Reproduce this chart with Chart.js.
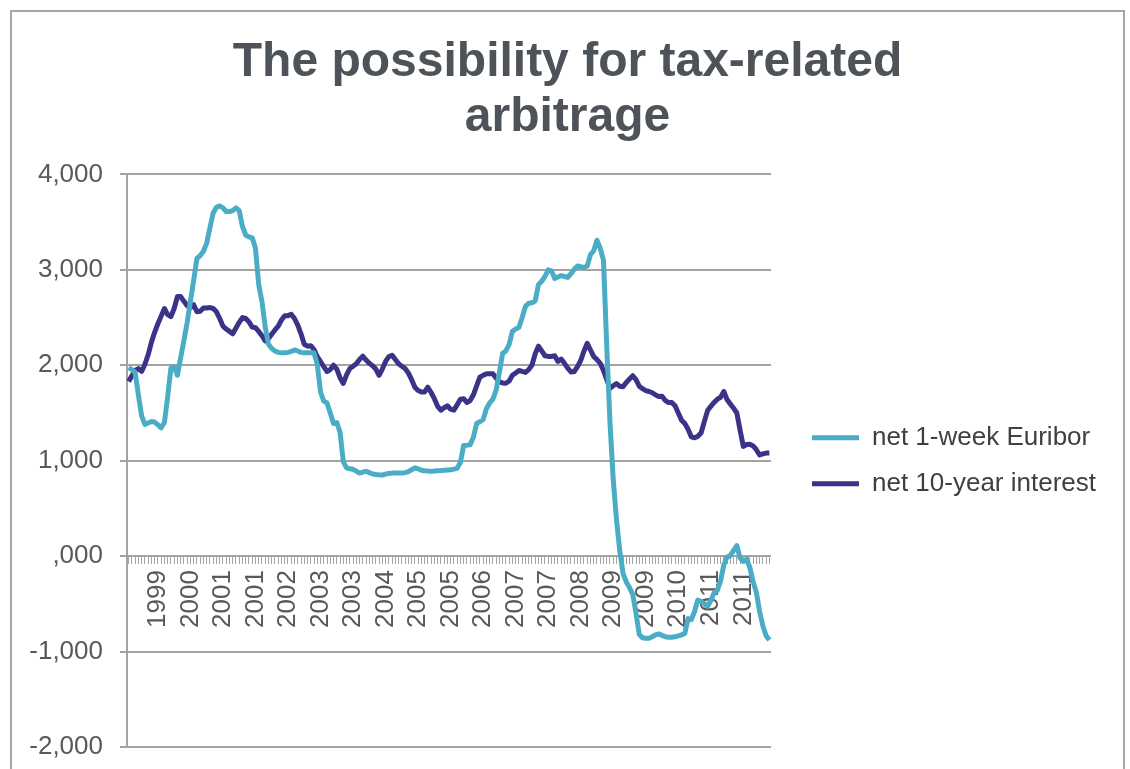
<!DOCTYPE html>
<html>
<head>
<meta charset="utf-8">
<title>The possibility for tax-related arbitrage</title>
<script src="https://cdn.jsdelivr.net/npm/chart.js@4.4.1/dist/chart.umd.min.js"></script>
<style>
  html, body { margin: 0; padding: 0; background: #fff; }
  canvas { display: block; }
</style>
</head>
<body>
<canvas id="arbitrageChart" width="1130" height="769"></canvas>
<script>
// net 1-week Euribor, one value per period
const euribor = [
  1975, 1955, 1925, 1690, 1470, 1380, 1395, 1410, 1405, 1375,
  1345, 1400, 1670, 1970, 1980, 1895, 2080, 2260, 2450, 2670,
  2890, 3120, 3150, 3195, 3280, 3440, 3595, 3655, 3670, 3650,
  3610, 3610, 3620, 3650, 3620, 3455, 3365, 3345, 3335, 3225,
  2845, 2665, 2400, 2220, 2175, 2150, 2135, 2130, 2130, 2135,
  2145, 2160, 2150, 2135, 2130, 2130, 2130, 2130, 2010, 1720,
  1625, 1605, 1500, 1390, 1400, 1300, 990, 925, 915, 910,
  890, 870, 880, 890, 875, 860, 855, 852, 850, 860,
  865, 870, 870, 870, 870, 875, 885, 905, 925, 915,
  900, 895, 892, 890, 892, 895, 897, 900, 903, 906,
  912, 920, 980, 1160, 1163, 1168, 1245, 1390, 1410, 1430,
  1545, 1605, 1645, 1740, 1930, 2125, 2150, 2220, 2355, 2380,
  2395, 2500, 2615, 2650, 2655, 2675, 2845, 2880, 2930, 3000,
  2990, 2910, 2925, 2940, 2930, 2920, 2960, 3005, 3040, 3032,
  3025, 3040, 3160, 3200, 3310, 3225, 3100, 2200, 1400, 800,
  380, 60, -180, -270, -330, -400, -600, -820, -855, -860,
  -860, -845, -825, -815, -830, -845, -850, -850, -845, -835,
  -825, -810, -655, -665, -580, -460, -475, -500, -525, -465,
  -385, -360, -260, -90, -10, 5, 60, 110, -20, -55,
  -30, -120, -265, -380, -580, -730, -835, -880
];

// net 10-year interest, same periods
const tenYear = [
  1830, 1890, 1945, 1965, 1935, 2010, 2110, 2240, 2345, 2435,
  2515, 2595, 2530, 2510, 2595, 2720, 2720, 2670, 2625, 2605,
  2635, 2560, 2565, 2600, 2600, 2605, 2595, 2560, 2490, 2410,
  2380, 2355, 2330, 2390, 2450, 2500, 2490, 2455, 2400, 2393,
  2355, 2310, 2255, 2280, 2325, 2370, 2410, 2475, 2520, 2520,
  2535, 2490, 2420, 2330, 2220, 2200, 2205, 2165, 2090, 2040,
  1985, 1935, 1955, 2000, 1960, 1870, 1810, 1900, 1965, 1990,
  2015, 2060, 2095, 2055, 2020, 1995, 1960, 1895, 1960, 2040,
  2090, 2105, 2060, 2015, 1990, 1965, 1920, 1850, 1770, 1735,
  1720, 1720, 1770, 1715, 1650, 1570, 1530, 1555, 1575, 1540,
  1530, 1585, 1645, 1650, 1610, 1630, 1690, 1785, 1875, 1895,
  1910, 1910, 1910, 1865, 1825, 1815, 1812, 1835, 1895, 1920,
  1945, 1935, 1925, 1955, 2000, 2120, 2200, 2150, 2100, 2093,
  2093, 2100, 2040, 2065, 2020, 1970, 1930, 1935, 1985, 2050,
  2150, 2230, 2160, 2090, 2060, 2020, 1945, 1850, 1760, 1785,
  1808, 1780, 1775, 1820, 1855, 1890, 1850, 1780, 1755, 1735,
  1725, 1712, 1690, 1672, 1675, 1630, 1610, 1610, 1575, 1500,
  1425, 1390, 1330, 1250, 1240, 1255, 1290, 1410, 1525, 1570,
  1610, 1645, 1665, 1725, 1640, 1595, 1550, 1500, 1320, 1150,
  1170, 1172, 1155, 1115, 1060, 1072, 1080, 1080
];

// year labels shown under every 10th period, starting at the 10th
const xTickLabels = ['1999', '2000', '2001', '2001', '2002', '2003', '2003', '2004', '2005', '2005',
  '2006', '2007', '2007', '2008', '2009', '2009', '2010', '2011', '2011'];
const firstLabelAt = 9;
const labelStep = 10;

const yTicks = [-2000, -1000, 0, 1000, 2000, 3000, 4000];
const yTickLabels = ['-2,000', '-1,000', ',000', '1,000', '2,000', '3,000', '4,000'];

const seriesNames = ['net 1-week Euribor', 'net 10-year interest'];
const seriesColors = ['#4BACC6', '#3a3387'];

const periods = euribor.map((v, i) => {
  const k = i - firstLabelAt;
  return k >= 0 && k % labelStep === 0 ? xTickLabels[k / labelStep] : '';
});

const gridGrey = '#a3a3a3';
const textGrey = '#595959';

Chart.defaults.font.family = "'Liberation Sans', Arial, sans-serif";

// outer chart frame
const framePlugin = {
  id: 'frame',
  beforeDraw(chart) {
    const ctx = chart.ctx;
    ctx.save();
    ctx.fillStyle = '#fff';
    ctx.fillRect(0, 0, chart.width, chart.height);
    ctx.strokeStyle = '#a6a6a6';
    ctx.lineWidth = 2;
    ctx.strokeRect(11, 11, 1113, 800);
    ctx.restore();
  }
};

new Chart(document.getElementById('arbitrageChart'), {
  type: 'line',
  data: {
    labels: periods,
    datasets: [
      {
        label: seriesNames[0],
        data: euribor,
        borderColor: seriesColors[0],
        backgroundColor: seriesColors[0],
        borderWidth: 5,
        pointRadius: 0,
        borderJoinStyle: 'round',
        tension: 0
      },
      {
        label: seriesNames[1],
        data: tenYear,
        borderColor: seriesColors[1],
        backgroundColor: seriesColors[1],
        borderWidth: 5,
        pointRadius: 0,
        borderJoinStyle: 'round',
        tension: 0
      }
    ]
  },
  options: {
    responsive: false,
    animation: false,
    layout: {
      padding: { left: 29, right: 24, top: 0, bottom: 22 }
    },
    plugins: {
      title: {
        display: true,
        text: ['The possibility for tax-related', 'arbitrage'],
        color: '#4d5358',
        font: { size: 48, weight: 'bold', lineHeight: 1.15 },
        padding: { top: 35, bottom: 29 }
      },
      legend: {
        position: 'right',
        fullSize: false,
        maxWidth: 400,
        labels: {
          usePointStyle: true,
          pointStyle: 'line',
          pointStyleWidth: 47,
          padding: 20,
          color: '#404040',
          font: { size: 26 }
        }
      },
      tooltip: { enabled: false }
    },
    scales: {
      x: {
        type: 'category',
        position: { y: 0 },
        offset: true,
        grid: {
          drawOnChartArea: false,
          drawTicks: true,
          tickLength: 7,
          color: gridGrey,
          lineWidth: 1
        },
        border: { display: true, color: gridGrey, width: 2 },
        ticks: {
          autoSkip: false,
          minRotation: 90,
          maxRotation: 90,
          padding: 7,
          color: textGrey,
          font: { size: 26 }
        }
      },
      y: {
        min: -2000,
        max: 4000,
        afterBuildTicks: scale => {
          scale.ticks = yTicks.map(v => ({ value: v }));
        },
        afterFit: scale => {
          scale.width = 98;
          // only half a label is needed above and below the plot
          scale.paddingTop = 16;
          scale.paddingBottom = 16;
        },
        grid: {
          color: gridGrey,
          lineWidth: 2,
          tickLength: 7
        },
        border: { display: true, color: gridGrey, width: 2 },
        ticks: {
          padding: 17,
          color: textGrey,
          font: { size: 26 },
          callback: value => yTickLabels[yTicks.indexOf(value)]
        }
      },
      // empty spacer between plot and legend
      yRight: {
        position: 'right',
        display: true,
        afterFit: scale => {
          scale.width = 21;
        },
        grid: { display: false },
        border: { display: false },
        ticks: { display: false }
      }
    }
  },
  plugins: [framePlugin]
});
</script>
</body>
</html>
